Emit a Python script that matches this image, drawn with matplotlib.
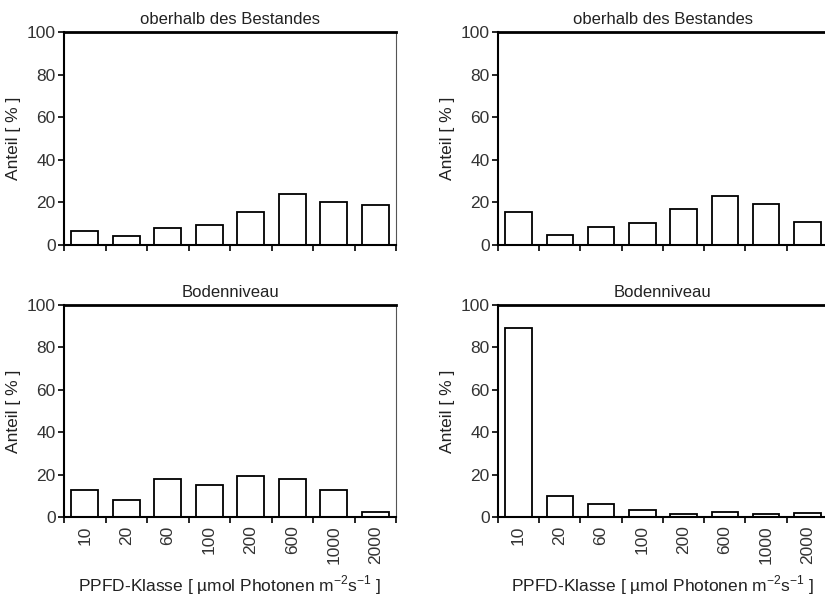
import numpy as np
import matplotlib
matplotlib.use("Agg")
import matplotlib.pyplot as plt

plt.rcParams['font.family'] = ['Liberation Sans', 'DejaVu Sans']
plt.rcParams['mathtext.fontset'] = 'custom'
plt.rcParams['mathtext.rm'] = 'Liberation Sans'

# PPFD classes and percentage share per panel
classes = ["10", "20", "60", "100", "200", "600", "1000", "2000"]
top_left = [6.5, 4.2, 8.0, 9.2, 15.3, 23.8, 20.0, 18.8]
top_right = [15.7, 4.9, 8.5, 10.2, 17.0, 23.2, 19.4, 10.8]
bottom_left = [12.9, 8.0, 17.8, 15.3, 19.4, 18.1, 12.8, 2.5]
bottom_right = [89.0, 9.8, 6.0, 3.5, 1.3, 2.4, 1.3, 1.9]

titles = ["oberhalb des Bestandes", "oberhalb des Bestandes", "Bodenniveau", "Bodenniveau"]
yticks = [0, 20, 40, 60, 80, 100]

fig = plt.figure(figsize=(8.25, 6.01), dpi=100)

# [left, bottom, width, height] in figure fractions
positions = [
    [0.0776, 0.5923, 0.4024, 0.3544],
    [0.6036, 0.5923, 0.4000, 0.3544],
    [0.0776, 0.1398, 0.4024, 0.3527],
    [0.6036, 0.1398, 0.4000, 0.3527],
]
data = [top_left, top_right, bottom_left, bottom_right]

x = np.arange(len(classes)) + 0.5

for i, (pos, vals, title) in enumerate(zip(positions, data, titles)):
    ax = fig.add_axes(pos)
    ax.bar(x, vals, width=0.64, facecolor='white', edgecolor='black', linewidth=1.3)
    ax.set_xlim(0, len(classes))
    ax.set_ylim(0, 100)
    ax.set_yticks(yticks)
    ax.set_yticklabels([str(t) for t in yticks], fontsize=12.5)
    ax.set_xticks(np.arange(len(classes) + 1))
    ax.set_xticklabels([])
    ax.tick_params(axis='both', direction='out', length=4, width=1.2, colors='black', pad=2)
    ax.tick_params(axis='y', labelcolor='#333333')

    ax.spines['top'].set_linewidth(2.0)
    ax.spines['left'].set_linewidth(1.5)
    ax.spines['bottom'].set_linewidth(1.5)
    ax.spines['right'].set_linewidth(0.8)
    ax.spines['right'].set_color('#555555')

    ax.set_title(title, fontsize=12, pad=6, color='#222222')
    ax.set_ylabel("Anteil [ % ]", fontsize=12.5, labelpad=4, color='#222222')

    if i >= 2:
        # category labels between the boundary ticks
        ax.set_xticks(x, minor=True)
        ax.set_xticklabels(classes, minor=True, rotation=90, fontsize=12.5, color='#333333')
        ax.tick_params(axis='x', which='minor', length=0, pad=6)
        ax.set_xlabel("PPFD-Klasse [ µmol Photonen m$^{-2}$s$^{-1}$ ]", fontsize=12.5,
                      labelpad=7, color='#222222')

fig.savefig("out.png", dpi=100)
